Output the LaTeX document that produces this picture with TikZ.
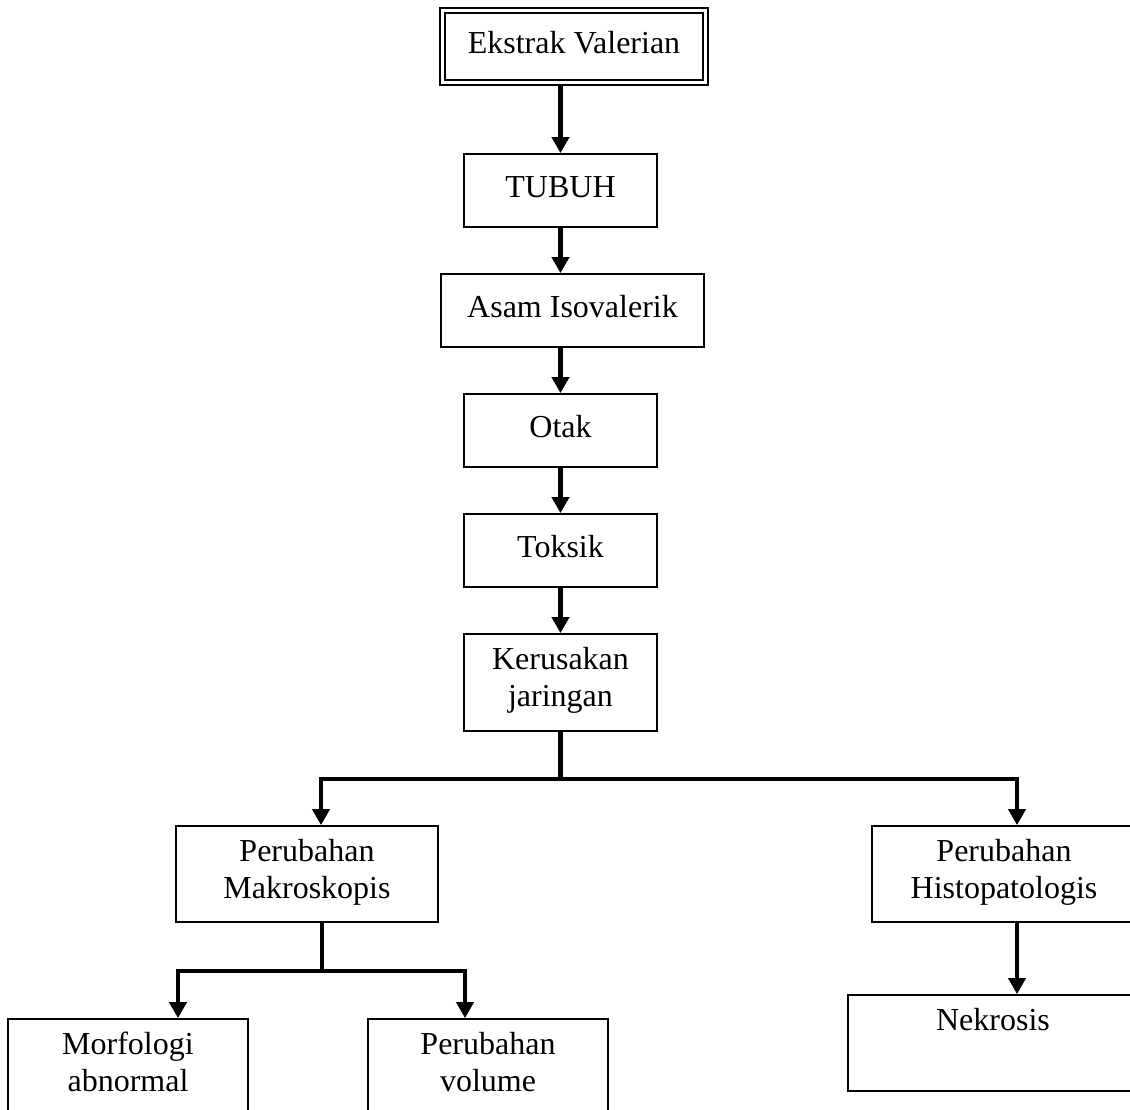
\documentclass[tikz,border=0pt]{standalone}
\usepackage{fontspec}
\setmainfont{Liberation Serif}
\usetikzlibrary{arrows.meta}

\begin{document}
\begin{tikzpicture}[x=1pt,y=-1pt,>={Triangle[width=17pt,length=16pt]},
    box/.style={draw,line width=1.8pt,align=center,inner sep=0pt,
      minimum width=193pt,minimum height=73pt,
      font=\fontsize{32}{37}\selectfont,
      execute at begin node=\strut,execute at end node=\strut},
    twobox/.style={box,minimum height=96pt},
    topbox/.style={box,double,line width=2pt,double distance=3pt,outer sep=3.5pt},
    arr/.style={->,line width=4.5pt},
    link/.style={line width=4.5pt}]
  \useasboundingbox (0,0) rectangle (1130,1109);
  \fill[white] (0,0) rectangle (1130,1109);
  \clip (0,0) rectangle (1130,1109);

  % main chain
  \node[topbox,minimum width=263pt,minimum height=72pt] (ekstrak) at (574,46) {Ekstrak Valerian};
  \node[box] (tubuh) at (560.5,190.5) {TUBUH};
  \node[box,minimum width=263pt] (asam) at (572.5,310.5) {Asam Isovalerik};
  \node[box] (otak) at (560.5,430.5) {Otak};
  \node[box] (toksik) at (560.5,550.5) {Toksik};
  \node[twobox,minimum height=97pt] (rusak) at (560.5,682.5) {Kerusakan\\jaringan};

  % branches
  \node[twobox,minimum width=262pt] (makro) at (307,874) {Perubahan\\Makroskopis};
  \node[twobox,minimum width=264pt] (histo) at (1004,874) {Perubahan\\Histopatologis};
  \node[twobox,minimum width=240pt] (morfo) at (128,1067) {Morfologi\\abnormal};
  \node[twobox,minimum width=240pt] (volume) at (488,1067) {Perubahan\\volume};
  \node[twobox,minimum width=290pt] (nekrosis) at (993,1043) {Nekrosis\\};

  \draw[arr] (ekstrak.south -| tubuh.north) -- (tubuh.north);
  \draw[arr] (tubuh.south) -- (tubuh.south |- asam.north);
  \draw[arr] (asam.south -| otak.north) -- (otak.north);
  \draw[arr] (otak) -- (toksik);
  \draw[arr] (toksik) -- (rusak);

  \draw[link] (rusak.south) -- ++(0,47) coordinate (j1);
  \draw[arr] (j1) -| ([xshift=14pt]makro.north);
  \draw[arr] (j1) -| ([xshift=13pt]histo.north);

  \draw[link] ([xshift=15pt]makro.south) -- ++(0,48) coordinate (j2);
  \draw[arr] (j2) -| ([xshift=50pt]morfo.north);
  \draw[arr] (j2) -| ([xshift=-23pt]volume.north);

  \draw[arr] ([xshift=13pt]histo.south) -- ([xshift=24pt]nekrosis.north);
\end{tikzpicture}
\end{document}
